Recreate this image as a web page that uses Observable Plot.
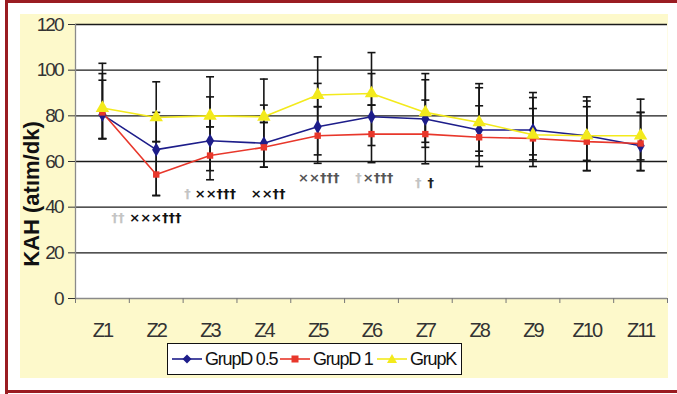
<!DOCTYPE html>
<html><head><meta charset="utf-8">
<script src="https://cdn.jsdelivr.net/npm/d3@7"></script>
<script src="https://cdn.jsdelivr.net/npm/@observablehq/plot@0.6"></script>
<style>
body{margin:0;background:#fff;}
#wrap{position:relative;width:677px;height:394px;overflow:hidden;background:#fff;font-family:"Liberation Sans",Arial,sans-serif;}
.bl{position:absolute;background:#9a1c22;}
#panel{position:absolute;left:20px;top:14px;width:648px;height:364px;background:#fdf9cb;}
#chart{position:absolute;left:0;top:0;}
#ylabel{position:absolute;left:32px;top:194px;transform:translate(-50%,-50%) rotate(-90deg);white-space:nowrap;font-size:22px;font-weight:bold;color:#111;line-height:1;}
#legend{position:absolute;left:167px;top:343px;width:293px;height:30px;border:1px solid #111;background:#fff;font-size:18px;color:#111;letter-spacing:-1.2px;}
#legend .it{position:absolute;top:0;height:30px;display:flex;align-items:center;white-space:nowrap;}
#legend svg{display:block;margin-right:3px;}
g[aria-label="y-axis tick label"] text{letter-spacing:-2px;}
g[aria-label="x-axis tick label"] text{letter-spacing:-2px;}
</style></head><body>
<div id="wrap">
  <div id="panel"></div>
  <div id="chart"></div>
  <div id="ylabel"></div>
  <div id="legend"></div>
  <div class="bl" style="left:5px;top:0;width:672px;height:2.5px"></div>
  <div class="bl" style="left:5px;top:0;width:2.5px;height:394px"></div>
  <div class="bl" style="left:5px;top:390px;width:672px;height:3px"></div>
</div>
<script>
const categories = ["Z1","Z2","Z3","Z4","Z5","Z6","Z7","Z8","Z9","Z10","Z11"];
const yTicks = [0, 20, 40, 60, 80, 100, 120];
const yLabel = "KAH (atım/dk)";

const grupD05 = [80.5, 65.2, 69.1, 68.0, 75.2, 79.6, 78.6, 73.8, 73.8, 71.3, 66.9];
const grupD05Hi = [98.5, 81.5, 88.3, 84.7, 94.2, 98.5, 95.8, 92.3, 88.0, 86.5, 81.5];
const grupD05Lo = [70.0, 45.1, 52.0, 57.5, 59.2, 59.5, 59.0, 57.8, 57.8, 60.5, 60.7];

const grupD1 = [81.5, 54.3, 62.6, 66.2, 71.3, 72.0, 72.0, 70.6, 70.1, 68.7, 67.9];
const grupD1Hi = [95.6, 68.7, 75.2, 77.1, 84.0, 84.7, 86.9, 84.4, 83.2, 84.0, 81.5];
const grupD1Lo = [70.0, 45.1, 56.0, 57.5, 62.9, 67.0, 68.4, 64.5, 62.9, 56.0, 56.0];

const grupK = [83.4, 79.3, 80.0, 79.6, 89.1, 89.8, 81.5, 77.1, 71.7, 71.3, 71.3];
const grupKHi = [103.0, 94.9, 97.1, 96.1, 105.8, 107.7, 98.5, 94.1, 90.2, 88.3, 87.3];
const grupKLo = [70.0, 68.7, 75.2, 77.1, 84.0, 84.7, 66.2, 62.5, 60.7, 56.0, 56.0];

// significance annotations: position (category units), value level, text, tone
const annoX    = [1.29, 1.985, 2.58, 3.10, 4.08, 5.02, 5.76, 6.12, 6.87, 7.10];
const annoY    = [35.5, 35.5, 46.0, 46.0, 46.0, 53.0, 53.0, 53.0, 50.8, 50.8];
const annoText = ["††", "×××†††", "†", "××†††", "××††", "××†††", "†", "×†††", "†", "†"];
const annoTone = ["#c4c4c4", "#111", "#c4c4c4", "#111", "#111", "#555", "#c4c4c4", "#555", "#c4c4c4", "#222"];

const series = [
  {name: "GrupD 0.5", v: grupD05, hi: grupD05Hi, lo: grupD05Lo, color: "#1d1d8a", symbol: "diamond", r: 4.3},
  {name: "GrupD 1",   v: grupD1,  hi: grupD1Hi,  lo: grupD1Lo,  color: "#e8372b", symbol: "square",  r: 3.6},
  {name: "GrupK",     v: grupK,   hi: grupKHi,   lo: grupKLo,   color: "#f3ea1c", symbol: "triangle", r: 5}
];

const n = categories.length;
const rows = series.flatMap(s => s.v.map((v, i) => ({name: s.name, i: i + 1, v, hi: s.hi[i], lo: s.lo[i]})));
const caps = rows.flatMap(d => [{i: d.i, y: d.hi}, {i: d.i, y: d.lo}]);
const annos = annoX.map((x, k) => ({x, y: annoY[k], t: annoText[k], c: annoTone[k]}));

const capSymbol = {draw(ctx, size) { const w = Math.sqrt(size / Math.PI); ctx.moveTo(-w, 0); ctx.lineTo(w, 0); }};

const FONT = "'Liberation Sans',Arial,sans-serif";

const marks = [
  Plot.frame({fill: "#fff", stroke: null}),
  Plot.gridY(yTicks.slice(1), {stroke: "#1a1a1a", strokeOpacity: 1, strokeWidth: 1.3}),
  Plot.ruleX([0.5], {stroke: "#8a8a8a", strokeWidth: 1.3}),
  Plot.ruleY([0], {stroke: "#8a8a8a", strokeWidth: 1.3}),
  Plot.axisY({ticks: yTicks, tickSize: 7, tickPadding: 6, fontSize: 19, color: "#333", label: null}),
  Plot.axisX({ticks: d3.range(1, n + 1), tickFormat: i => categories[i - 1], tickSize: 0, tickPadding: 24, fontSize: 20, color: "#333", label: null}),
  Plot.axisX({ticks: d3.range(0.5, n + 1, 1), tickFormat: () => "", tickSize: 5, color: "#777", label: null}),
  Plot.ruleX(rows, {x: "i", y1: "lo", y2: "hi", stroke: "#151515", strokeWidth: 1.6}),
  Plot.dot(caps, {x: "i", y: "y", symbol: capSymbol, r: 4, stroke: "#151515", strokeWidth: 1.6})
];
for (const s of series) {
  marks.push(Plot.line(rows.filter(d => d.name === s.name), {x: "i", y: "v", stroke: s.color, strokeWidth: 1.6}));
}
for (const s of series) {
  marks.push(Plot.dot(rows.filter(d => d.name === s.name), {x: "i", y: "v", symbol: s.symbol, r: s.r, fill: s.color, stroke: null}));
}
marks.push(Plot.text(annos, {x: "x", y: "y", text: "t", fill: "c", fontSize: 13, fontWeight: "bold", fontFamily: "DejaVu Sans"}));

const chart = Plot.plot({
  width: 677, height: 394,
  marginLeft: 75, marginRight: 10, marginTop: 24, marginBottom: 96,
  style: {background: "transparent", overflow: "visible", fontFamily: FONT},
  x: {type: "linear", domain: [0.5, n + 0.5]},
  y: {domain: [0, 120]},
  color: {type: "identity"},
  marks
});
document.getElementById("chart").appendChild(chart);
document.getElementById("ylabel").textContent = yLabel;

// legend
const legendLeft = [4, 112, 209];
const legend = document.getElementById("legend");
series.forEach((s, k) => {
  const it = document.createElement("div");
  it.className = "it";
  it.style.left = legendLeft[k] + "px";
  const sym = s.symbol === "diamond" ? '<path d="M15,1.5 L19.5,6 L15,10.5 L10.5,6Z" fill="' + s.color + '"/>'
            : s.symbol === "square" ? '<rect x="11.5" y="2.5" width="7" height="7" fill="' + s.color + '"/>'
            : '<path d="M15,1 L20,10 L10,10Z" fill="' + s.color + '"/>';
  it.innerHTML = '<svg width="30" height="12"><line x1="0" y1="6" x2="30" y2="6" stroke="' + s.color + '" stroke-width="1.6"/>' + sym + '</svg><span>' + s.name + '</span>';
  legend.appendChild(it);
});
</script>
</body></html>
